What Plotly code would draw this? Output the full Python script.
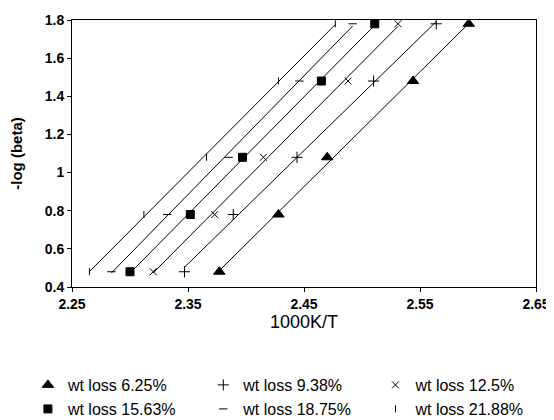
import numpy as np
import plotly.graph_objects as go

# -log(beta) levels (heating rates)
neg_log_beta = [0.48, 0.78, 1.08, 1.48, 1.78]

series_names = ["wt loss 6.25%", "wt loss 9.38%", "wt loss 12.5%",
                "wt loss 15.63%", "wt loss 18.75%", "wt loss 21.88%"]

# 1000K/T values read at each -log(beta) level
x_625 = [2.377, 2.428, 2.470, 2.544, 2.592]
x_938 = [2.347, 2.389, 2.444, 2.510, 2.564]
x_125 = [2.320, 2.373, 2.415, 2.488, 2.531]
x_1563 = [2.300, 2.352, 2.397, 2.465, 2.511]
x_1875 = [2.284, 2.332, 2.385, 2.446, 2.492]
x_2188 = [2.265, 2.312, 2.366, 2.428, 2.477]

x_ticks = [2.25, 2.35, 2.45, 2.55, 2.65]

all_x = [x_625, x_938, x_125, x_1563, x_1875, x_2188]
symbols = ["triangle-up", "cross-thin", "x-thin", "square", "line-ew", "line-ns"]
sizes = [10, 8, 7, 8, 6, 5]
legend_ids = ["legend", "legend2", "legend3", "legend4", "legend5", "legend6"]

fig = go.Figure()
for xs in all_x:
    a, b = np.polyfit(xs, neg_log_beta, 1)
    xe = [min(xs), max(xs)]
    fig.add_trace(go.Scatter(x=xe, y=[a * v + b for v in xe], mode="lines",
                             line=dict(color="black", width=1),
                             showlegend=False, hoverinfo="skip"))
for name, xs, sym, sz, lg in zip(series_names, all_x, symbols, sizes, legend_ids):
    fig.add_trace(go.Scatter(x=xs, y=neg_log_beta, mode="markers", name=name,
                             legend=lg,
                             marker=dict(symbol=sym, size=sz, color="black",
                                         line=dict(color="black", width=1))))

axis_common = dict(showline=True, linecolor="black", linewidth=1, mirror=True,
                   ticks="outside", ticklen=4, tickcolor="black", showgrid=False,
                   zeroline=False,
                   tickfont=dict(family="Liberation Sans, Arial", size=14, color="black", weight="bold"))

# legend placement: 3 columns x 2 rows below the plot
col_x = [-0.095, 0.283, 0.654]
row_y = [-0.367, -0.457]
legend_layouts = {}
for i, lg in enumerate(legend_ids):
    legend_layouts[lg] = dict(x=col_x[i % 3], xanchor="left",
                              y=row_y[i // 3], yanchor="middle",
                              bgcolor="rgba(0,0,0,0)",
                              font=dict(size=16, family="Liberation Sans, Arial"))

fig.update_layout(
    width=554, height=420,
    margin=dict(l=64, r=26, t=12, b=141, autoexpand=False),
    paper_bgcolor="white", plot_bgcolor="white",
    font=dict(family="Liberation Sans, Arial", color="black"),
    xaxis=dict(range=[2.25, 2.65], tickvals=x_ticks,
               ticktext=[f"{v:.2f}" for v in x_ticks],
               title=dict(text="1000K/T", font=dict(size=18), standoff=4),
               **axis_common),
    yaxis=dict(range=[0.4, 1.8], dtick=0.2, tick0=0.4,
               title=dict(text="<b>-log (beta)</b>", font=dict(size=15), standoff=22),
               **axis_common),
    **legend_layouts,
)

fig.write_html("out.html")
